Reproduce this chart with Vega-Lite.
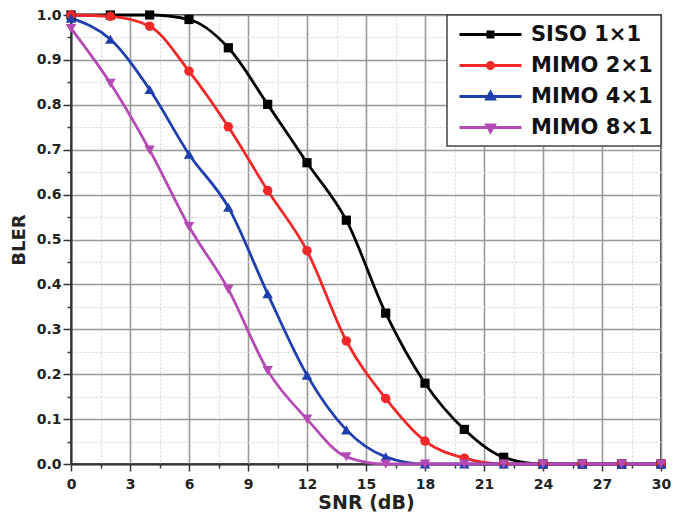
{
  "$schema": "https://vega.github.io/schema/vega-lite/v6.json",
  "width": 590,
  "height": 449,
  "autosize": {"type": "none"},
  "padding": {"left": 71, "top": 15, "right": 13, "bottom": 57},
  "background": "white",
  "config": {
    "view": {"stroke": "#444", "strokeWidth": 2},
    "font": "DejaVu Sans"
  },
  "data": {
    "values": [
      {"scheme": "SISO 1×1", "snr": 0, "bler": 1.0},
      {"scheme": "SISO 1×1", "snr": 2, "bler": 1.0},
      {"scheme": "SISO 1×1", "snr": 4, "bler": 1.0},
      {"scheme": "SISO 1×1", "snr": 6, "bler": 0.99},
      {"scheme": "SISO 1×1", "snr": 8, "bler": 0.927},
      {"scheme": "SISO 1×1", "snr": 10, "bler": 0.801},
      {"scheme": "SISO 1×1", "snr": 12, "bler": 0.671},
      {"scheme": "SISO 1×1", "snr": 14, "bler": 0.543},
      {"scheme": "SISO 1×1", "snr": 16, "bler": 0.336},
      {"scheme": "SISO 1×1", "snr": 18, "bler": 0.18},
      {"scheme": "SISO 1×1", "snr": 20, "bler": 0.077},
      {"scheme": "SISO 1×1", "snr": 22, "bler": 0.015},
      {"scheme": "SISO 1×1", "snr": 24, "bler": 0.0},
      {"scheme": "SISO 1×1", "snr": 26, "bler": 0.0},
      {"scheme": "SISO 1×1", "snr": 28, "bler": 0.0},
      {"scheme": "SISO 1×1", "snr": 30, "bler": 0.0},
      {"scheme": "MIMO 2×1", "snr": 0, "bler": 1.0},
      {"scheme": "MIMO 2×1", "snr": 2, "bler": 0.997},
      {"scheme": "MIMO 2×1", "snr": 4, "bler": 0.975},
      {"scheme": "MIMO 2×1", "snr": 6, "bler": 0.875},
      {"scheme": "MIMO 2×1", "snr": 8, "bler": 0.751},
      {"scheme": "MIMO 2×1", "snr": 10, "bler": 0.609},
      {"scheme": "MIMO 2×1", "snr": 12, "bler": 0.475},
      {"scheme": "MIMO 2×1", "snr": 14, "bler": 0.274},
      {"scheme": "MIMO 2×1", "snr": 16, "bler": 0.146},
      {"scheme": "MIMO 2×1", "snr": 18, "bler": 0.051},
      {"scheme": "MIMO 2×1", "snr": 20, "bler": 0.013},
      {"scheme": "MIMO 2×1", "snr": 22, "bler": 0.0},
      {"scheme": "MIMO 2×1", "snr": 24, "bler": 0.0},
      {"scheme": "MIMO 2×1", "snr": 26, "bler": 0.0},
      {"scheme": "MIMO 2×1", "snr": 28, "bler": 0.0},
      {"scheme": "MIMO 2×1", "snr": 30, "bler": 0.0},
      {"scheme": "MIMO 4×1", "snr": 0, "bler": 0.993},
      {"scheme": "MIMO 4×1", "snr": 2, "bler": 0.946},
      {"scheme": "MIMO 4×1", "snr": 4, "bler": 0.834},
      {"scheme": "MIMO 4×1", "snr": 6, "bler": 0.69},
      {"scheme": "MIMO 4×1", "snr": 8, "bler": 0.572},
      {"scheme": "MIMO 4×1", "snr": 10, "bler": 0.379},
      {"scheme": "MIMO 4×1", "snr": 12, "bler": 0.198},
      {"scheme": "MIMO 4×1", "snr": 14, "bler": 0.076},
      {"scheme": "MIMO 4×1", "snr": 16, "bler": 0.016},
      {"scheme": "MIMO 4×1", "snr": 18, "bler": 0.0},
      {"scheme": "MIMO 4×1", "snr": 20, "bler": 0.0},
      {"scheme": "MIMO 4×1", "snr": 22, "bler": 0.0},
      {"scheme": "MIMO 4×1", "snr": 24, "bler": 0.0},
      {"scheme": "MIMO 4×1", "snr": 26, "bler": 0.0},
      {"scheme": "MIMO 4×1", "snr": 28, "bler": 0.0},
      {"scheme": "MIMO 4×1", "snr": 30, "bler": 0.0},
      {"scheme": "MIMO 8×1", "snr": 0, "bler": 0.97},
      {"scheme": "MIMO 8×1", "snr": 2, "bler": 0.848},
      {"scheme": "MIMO 8×1", "snr": 4, "bler": 0.699},
      {"scheme": "MIMO 8×1", "snr": 6, "bler": 0.529},
      {"scheme": "MIMO 8×1", "snr": 8, "bler": 0.389},
      {"scheme": "MIMO 8×1", "snr": 10, "bler": 0.208},
      {"scheme": "MIMO 8×1", "snr": 12, "bler": 0.1},
      {"scheme": "MIMO 8×1", "snr": 14, "bler": 0.016},
      {"scheme": "MIMO 8×1", "snr": 16, "bler": 0.0},
      {"scheme": "MIMO 8×1", "snr": 18, "bler": 0.0},
      {"scheme": "MIMO 8×1", "snr": 20, "bler": 0.0},
      {"scheme": "MIMO 8×1", "snr": 22, "bler": 0.0},
      {"scheme": "MIMO 8×1", "snr": 24, "bler": 0.0},
      {"scheme": "MIMO 8×1", "snr": 26, "bler": 0.0},
      {"scheme": "MIMO 8×1", "snr": 28, "bler": 0.0},
      {"scheme": "MIMO 8×1", "snr": 30, "bler": 0.0}
    ]
  },
  "encoding": {
    "x": {
      "field": "snr",
      "type": "quantitative",
      "title": "SNR (dB)",
      "scale": {"domain": [0, 30], "nice": false},
      "axis": {
        "values": [0, 1.5, 3, 4.5, 6, 7.5, 9, 10.5, 12, 13.5, 15, 16.5, 18, 19.5, 21, 22.5, 24, 25.5, 27, 28.5, 30],
        "labelExpr": "datum.value % 3 === 0 ? datum.value : ''",
        "labelFlush": false,
        "labelFont": "DejaVu Sans",
        "labelFontSize": 14,
        "labelFontWeight": "bold",
        "labelColor": "#222",
        "labelPadding": 6,
        "tickSize": {"condition": {"test": "datum.value % 3 === 0", "value": 7}, "value": 4},
        "tickColor": "#333",
        "tickWidth": 1.5,
        "domainColor": "#333",
        "domainWidth": 2,
        "grid": true,
        "gridColor": {"condition": {"test": "datum.value % 3 === 0", "value": "#999"}, "value": "#d4d4d4"},
        "gridWidth": {"condition": {"test": "datum.value % 3 === 0", "value": 1.6}, "value": 1},
        "gridDash": {"condition": {"test": "datum.value % 3 === 0", "value": []}, "value": [2, 2]},
        "titleFont": "DejaVu Sans",
        "titleFontSize": 19,
        "titleFontWeight": "bold",
        "titleColor": "#222",
        "titlePadding": 2
      }
    },
    "y": {
      "field": "bler",
      "type": "quantitative",
      "title": "BLER",
      "scale": {"domain": [0, 1], "nice": false},
      "axis": {
        "values": [0, 0.05, 0.1, 0.15, 0.2, 0.25, 0.3, 0.35, 0.4, 0.45, 0.5, 0.55, 0.6, 0.65, 0.7, 0.75, 0.8, 0.85, 0.9, 0.95, 1.0],
        "labelExpr": "round(datum.value * 20) % 2 === 0 ? format(datum.value, '.1f') : ''",
        "labelFlush": false,
        "labelFont": "DejaVu Sans",
        "labelFontSize": 14,
        "labelFontWeight": "bold",
        "labelColor": "#222",
        "labelPadding": 2,
        "tickSize": {"condition": {"test": "round(datum.value * 20) % 2 === 0", "value": 8}, "value": 4},
        "tickColor": "#333",
        "tickWidth": 1.5,
        "domainColor": "#333",
        "domainWidth": 2,
        "grid": true,
        "gridColor": {"condition": {"test": "round(datum.value * 20) % 2 === 0", "value": "#999"}, "value": "#d4d4d4"},
        "gridWidth": {"condition": {"test": "round(datum.value * 20) % 2 === 0", "value": 1.6}, "value": 1},
        "gridDash": {"condition": {"test": "round(datum.value * 20) % 2 === 0", "value": []}, "value": [2, 2]},
        "titleFont": "DejaVu Sans",
        "titleFontSize": 18,
        "titleFontWeight": "bold",
        "titleColor": "#222",
        "titlePadding": 8
      }
    },
    "color": {
      "field": "scheme",
      "type": "nominal",
      "scale": {
        "domain": ["SISO 1×1", "MIMO 2×1", "MIMO 4×1", "MIMO 8×1"],
        "range": ["#000000", "#f02828", "#1f3fae", "#b44ab4"]
      },
      "legend": {
        "title": null,
        "orient": "top-right",
        "offset": 0,
        "padding": 8,
        "fillColor": "white",
        "strokeColor": "#444",
        "cornerRadius": 0,
        "labelFont": "DejaVu Sans",
        "labelFontSize": 21,
        "labelFontWeight": "bold",
        "labelColor": "#111",
        "labelOffset": 53,
        "symbolSize": 400,
        "symbolStrokeWidth": 3,
        "rowPadding": 9,
        "encode": {
          "legend": {"update": {"strokeWidth": {"value": 1.5}}},
          "symbols": {
            "update": {
              "shape": [
                {"test": "datum.value === 'SISO 1×1'", "value": "M-0.7,0H5.5M2.15,-0.25H2.65V0.25H2.15Z"},
                {"test": "datum.value === 'MIMO 2×1'", "value": "M-0.7,0H5.5M2.7,0A0.3,0.3 0 1,1 2.1,0A0.3,0.3 0 1,1 2.7,0Z"},
                {"test": "datum.value === 'MIMO 4×1'", "value": "M-0.7,0H5.5M2.4,-0.42L2.78,0.24H2.02Z"},
                {"value": "M-0.7,0H5.5M2.4,0.42L2.78,-0.24H2.02Z"}
              ],
              "fill": {"scale": "color", "field": "value"},
              "stroke": {"scale": "color", "field": "value"},
              "strokeWidth": {"value": 3},
              "opacity": {"value": 1}
            }
          }
        }
      }
    }
  },
  "layer": [
    {"mark": {"type": "line", "interpolate": "monotone", "strokeWidth": 2.8}},
    {
      "transform": [{"filter": "datum.scheme === 'SISO 1×1'"}],
      "mark": {"type": "point", "filled": true, "opacity": 1, "shape": "square", "size": 85}
    },
    {
      "transform": [{"filter": "datum.scheme === 'MIMO 2×1'"}],
      "mark": {"type": "point", "filled": true, "opacity": 1, "shape": "circle", "size": 90}
    },
    {
      "transform": [{"filter": "datum.scheme === 'MIMO 4×1'"}],
      "mark": {"type": "point", "filled": true, "opacity": 1, "shape": "triangle-up", "size": 110}
    },
    {
      "transform": [{"filter": "datum.scheme === 'MIMO 8×1'"}],
      "mark": {"type": "point", "filled": true, "opacity": 1, "shape": "triangle-down", "size": 110}
    }
  ]
}
